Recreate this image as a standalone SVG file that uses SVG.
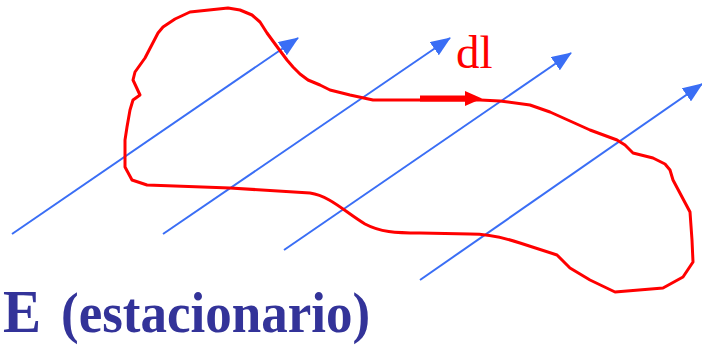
<svg xmlns="http://www.w3.org/2000/svg" width="702" height="345" viewBox="0 0 702 345">
<defs>
<style>
.field{stroke:#3a6ef5;stroke-width:2;fill:none}
.loop{stroke:#ff0000;stroke-width:3;fill:none;stroke-linejoin:round;stroke-linecap:round}
.lbl{font-family:"Liberation Serif","Times New Roman",serif}
</style>
<marker id="ah" markerUnits="userSpaceOnUse" markerWidth="20" markerHeight="16" viewBox="0 0 20 16" refX="19" refY="8" orient="auto">
<path d="M0,0 L20,8 L0,16 Z" fill="#3a6ef5"/>
</marker>
</defs>
<g id="connectors">
<line class="field" x1="12" y1="234" x2="298" y2="38" marker-end="url(#ah)"/>
<line class="field" x1="163" y1="234" x2="450" y2="38" marker-end="url(#ah)"/>
<line class="field" x1="284" y1="250" x2="571" y2="53" marker-end="url(#ah)"/>
<line class="field" x1="420" y1="280" x2="702" y2="84" marker-end="url(#ah)"/>
</g>
<g id="loop">
<path class="loop" d="M158,33 L163,27 L175,19 L190,12 L228,8 L240,10 L252,15 L260,22 L267,33 L278,48 L287,60 L293,67 L300,74 L308,80 L320,85 L330,90 L350,95 L373,100 L480,100 L500,101 L530,105 L550,112 L570,121 L590,130 L617,140 L625,145 L633,153 L653,158 L665,164 L670,170 L673,180 L690,212 L692,240 L693,262 L683,277 L663,288 L615,292 L590,280 L570,268 L557,255 L520,243 C505,238 490,234 470,234 L420,233 C395,233 380,232 365,224 C345,212 330,196 310,193 L230,188 L147,185 L132,180 L125,167 L125,140 L127,127 L130,110 L133,100 L140,95 L133,80 L135,72 L145,58 Z"/>
</g>
<g id="dl">
<path d="M420,95.5 L465,95.5 L465,91 L482,98.5 L465,106 L465,101.5 L420,101.5 Z" fill="#ff0000"/>
<text class="lbl" x="456" y="68" font-size="47" fill="#ff0000">dl</text>
</g>
<g id="label" transform="translate(0,332) scale(1,1.08)">
<text class="lbl" x="3" y="0" font-size="57" font-weight="bold" fill="#333399">E</text>
<text class="lbl" x="61" y="0" font-size="53" font-weight="bold" fill="#333399">(estacionario)</text>
</g>
</svg>
